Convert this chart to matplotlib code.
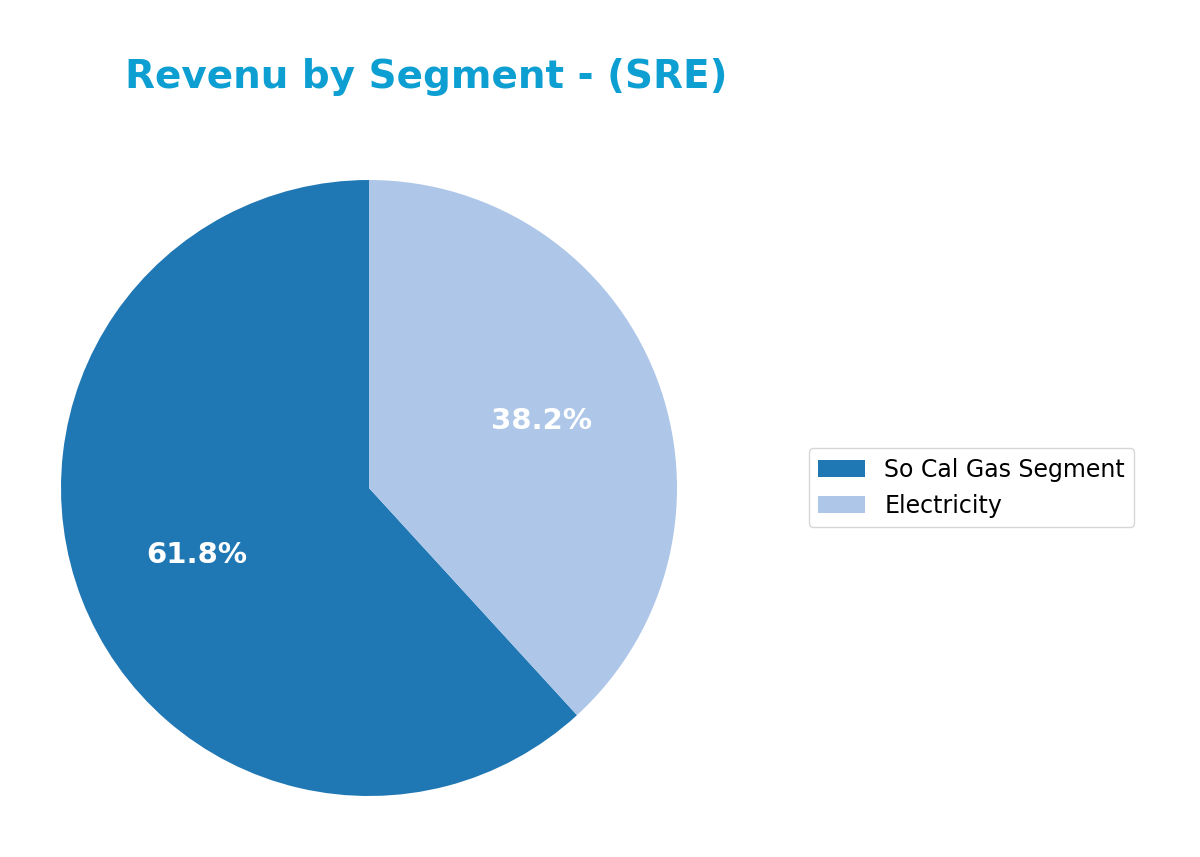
import matplotlib

matplotlib.use("Agg")

import matplotlib.pyplot as plt

segments = ["So Cal Gas Segment", "Electricity"]
shares = [61.8, 38.2]
colors = ["#1f77b4", "#aec7e8"]

fig = plt.figure(figsize=(12, 8.57), dpi=100)
# pie centre ~ (369, 488) px, radius ~308 px
ax = fig.add_axes([61 / 1200, 61 / 857, 616 / 1200, 616 / 857])
wedges, texts, autotexts = ax.pie(
    shares,
    colors=colors,
    startangle=90,
    autopct="%1.1f%%",
    pctdistance=0.6,
    textprops={"color": "white", "fontsize": 21, "fontweight": "bold"},
)
ax.set_xlim(-1, 1)
ax.set_ylim(-1, 1)
ax.set_aspect("equal")

fig.text(0.104, 0.91, "Revenu by Segment - (SRE)", fontsize=28, fontweight="bold",
         color="#0e9fd2", va="center", ha="left")

fig.legend(wedges, segments, loc="center left", bbox_to_anchor=(0.664, 0.431),
           fontsize=17, frameon=True)

fig.savefig("out.png")
